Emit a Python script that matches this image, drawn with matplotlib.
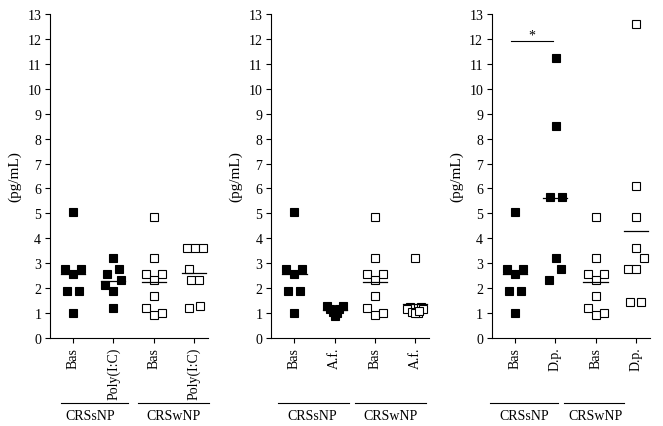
import matplotlib.pyplot as plt

plt.rcParams["font.family"] = ["Liberation Serif", "DejaVu Serif"]

# values (pg/mL)
bas_snp = [5.07, 2.75, 2.75, 2.55, 1.9, 1.9, 1.0]
bas_wnp = [4.87, 3.2, 2.55, 2.55, 2.33, 1.68, 1.2, 0.92, 1.0]
polyic_snp = [3.2, 2.75, 2.55, 2.33, 2.12, 1.9, 1.2]
polyic_wnp = [3.62, 3.62, 3.62, 2.77, 2.33, 2.33, 1.2, 1.3]
af_snp = [1.3, 1.27, 1.17, 1.15, 1.05, 1.0, 0.9]
af_wnp = [3.2, 1.25, 1.25, 1.15, 1.15, 1.05, 1.0, 1.0, 1.1]
dp_snp = [11.25, 8.5, 5.67, 5.67, 3.2, 2.75, 2.33]
dp_wnp = [12.6, 6.08, 4.87, 3.62, 3.2, 2.77, 2.77, 1.45, 1.45]

# horizontal spread of the points around each category
jit_bas_snp = [0, -0.2, 0.2, 0, -0.15, 0.15, 0]
jit_bas_wnp = [0, 0, -0.2, 0.2, 0, 0, -0.2, 0, 0.2]
jit_polyic_snp = [0, 0.13, -0.15, 0.19, -0.2, 0, 0]
jit_polyic_wnp = [-0.18, 0.02, 0.22, -0.11, -0.06, 0.14, -0.11, 0.16]
jit_af_snp = [-0.2, 0.2, -0.12, 0.12, -0.04, 0.05, 0]
jit_af_wnp = [0, -0.12, 0.15, -0.2, 0.2, -0.08, 0.08, 0, 0.1]
jit_dp_snp = [0.02, 0.02, -0.13, 0.16, 0.02, 0.14, -0.15]
jit_dp_wnp = [0, 0, 0, 0, 0.2, -0.19, 0, -0.15, 0.12]

panels = [
    (["Bas", "Poly(I:C)", "Bas", "Poly(I:C)"],
     [(bas_snp, jit_bas_snp), (polyic_snp, jit_polyic_snp),
      (bas_wnp, jit_bas_wnp), (polyic_wnp, jit_polyic_wnp)],
     [(-0.3, 1.37, 0.43), (1.6, 3.37, 2.5)]),
    (["Bas", "A.f.", "Bas", "A.f."],
     [(bas_snp, jit_bas_snp), (af_snp, jit_af_snp),
      (bas_wnp, jit_bas_wnp), (af_wnp, jit_af_wnp)],
     [(-0.4, 1.37, 0.45), (1.52, 3.27, 2.4)]),
    (["Bas", "D.p.", "Bas", "D.p."],
     [(bas_snp, jit_bas_snp), (dp_snp, jit_dp_snp),
      (bas_wnp, jit_bas_wnp), (dp_wnp, jit_dp_wnp)],
     [(-0.62, 1.07, 0.22), (1.22, 2.7, 2.0)]),
]
groups = ["CRSsNP", "CRSwNP"]

fig = plt.figure(figsize=(6.63, 4.27), dpi=100)
lefts = [0.0754, 0.409, 0.742]

for left, (labels, series, glines) in zip(lefts, panels):
    ax = fig.add_axes([left, 0.206, 0.238, 0.759])
    for i, (vals, jit) in enumerate(series):
        xs = [i + j for j in jit]
        filled = i < 2
        ax.plot(xs, vals, "s", ms=5.3,
                mfc="black" if filled else "white", mec="black",
                mew=0.8, clip_on=False)
        m = sum(vals) / len(vals)
        ax.plot([i - 0.3, i + 0.3], [m, m], color="black", lw=0.9)
    ax.set_ylim(0, 13)
    ax.set_xlim(-0.58, 3.35)
    ax.set_yticks(range(0, 14))
    ax.set_xticks(range(4))
    ax.set_xticklabels(labels, rotation=90)
    ax.tick_params(labelsize=10, length=3.8, width=0.8, pad=2.5)
    ax.set_ylabel("(pg/mL)", fontsize=11, labelpad=4)
    ax.spines["top"].set_visible(False)
    ax.spines["right"].set_visible(False)
    trans = ax.get_xaxis_transform()
    for (x0, x1, xt), g in zip(glines, groups):
        ax.plot([x0, x1], [-0.2, -0.2], color="black", lw=0.8,
                transform=trans, clip_on=False)
        ax.text(xt, -0.24, g, transform=trans, ha="center", va="center",
                fontsize=10)

# significance bar in the last panel
ax.plot([-0.1, 0.95], [11.9, 11.9], color="black", lw=0.8)
ax.text(0.42, 11.9, "*", ha="center", va="bottom", fontsize=10)

fig.savefig("out.png", dpi=100)
